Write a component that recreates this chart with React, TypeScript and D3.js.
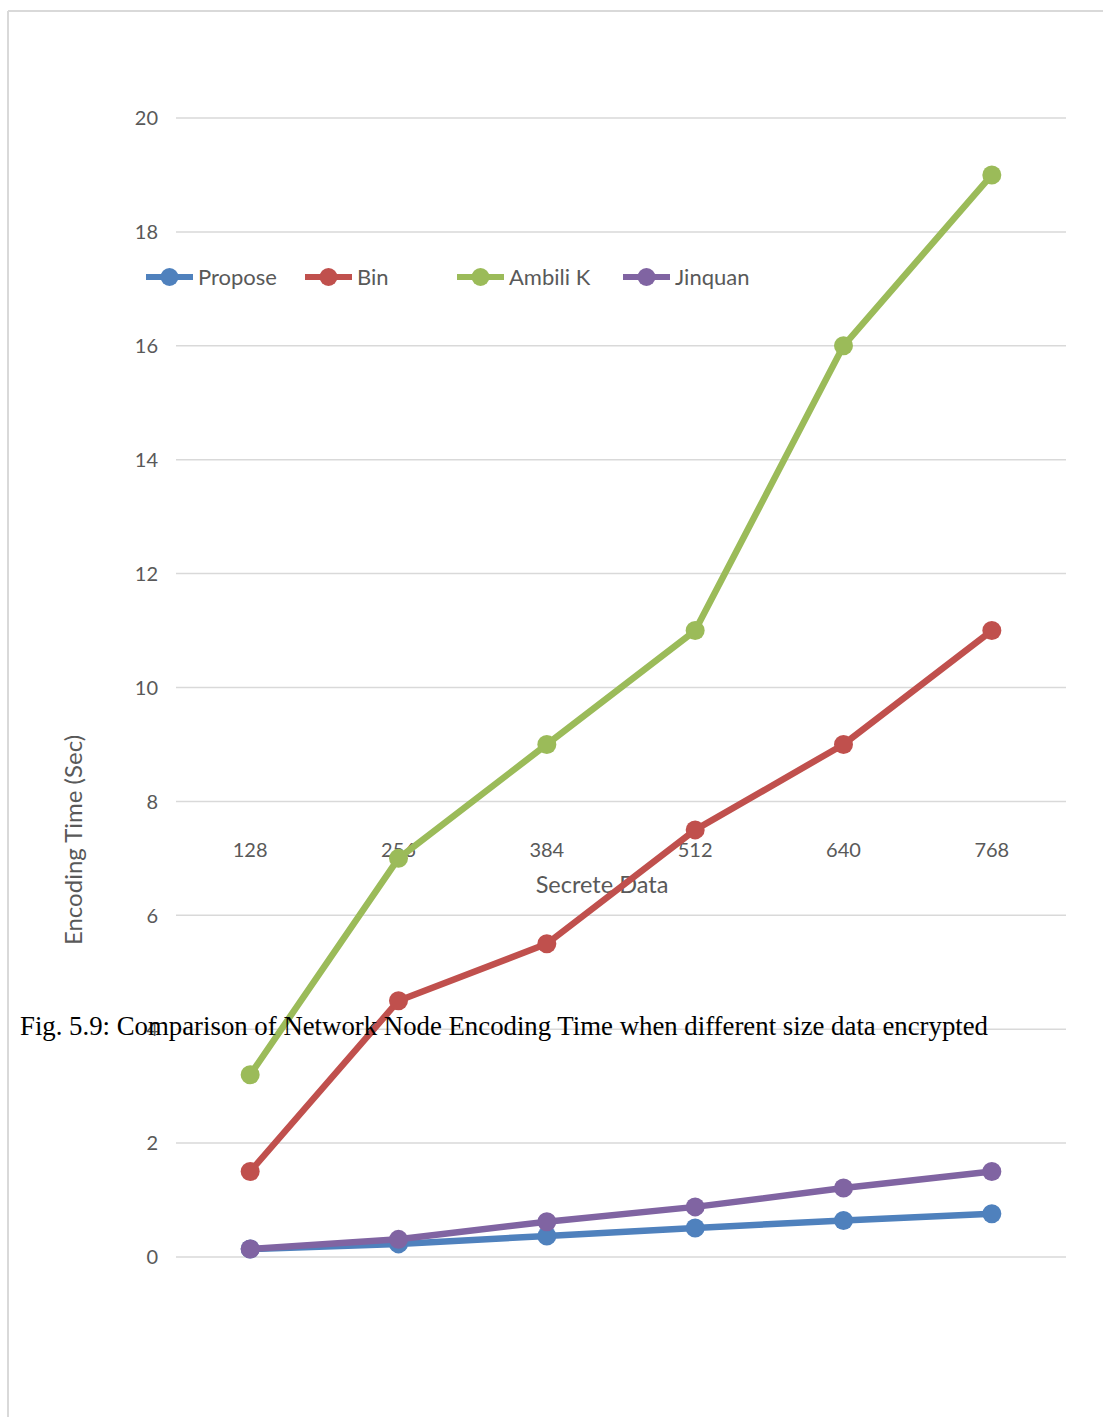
import React from "react";
import * as d3 from "d3";

// Data size categories (bits of secret data)
const categories = ["128", "256", "384", "512", "640", "768"];

// Encoding time in seconds per method
const propose = [0.14, 0.23, 0.37, 0.51, 0.64, 0.76];
const bin = [1.5, 4.5, 5.5, 7.5, 9, 11];
const ambili = [3.2, 7, 9, 11, 16, 19];
const jinquan = [0.14, 0.31, 0.62, 0.88, 1.21, 1.5];

const yTicks = [0, 2, 4, 6, 8, 10, 12, 14, 16, 18, 20];

const seriesNames = ["Propose", "Bin", "Ambili K", "Jinquan"];
const seriesValues = [propose, bin, ambili, jinquan];
const seriesColors = ["#4F81BD", "#C0504D", "#9BBB59", "#8064A2"];

const W = 1103;
const H = 1417;
const plot = { left: 176, right: 1066, top: 118, bottom: 1257 };
const uiFont = "Lato, 'Open Sans', sans-serif";

export default function App() {
  const x = d3
    .scaleBand<string>()
    .domain(categories)
    .range([plot.left, plot.right]);
  const y = d3.scaleLinear().domain([0, 20]).range([plot.bottom, plot.top]);
  const cx = (c: string) => (x(c) ?? 0) + x.bandwidth() / 2;

  const line = d3
    .line<number>()
    .x((_, i) => cx(categories[i]))
    .y((v) => y(v));

  const legendX = [146, 305, 457, 623];

  return (
    <svg
      width={W}
      height={H}
      style={{ position: "absolute", left: 0, top: 0, background: "#fff" }}
    >
      {/* frame */}
      <line x1={8} y1={11} x2={W} y2={11} stroke="#d9d9d9" strokeWidth={2} />
      <line x1={8} y1={11} x2={8} y2={H} stroke="#d9d9d9" strokeWidth={2} />

      {/* gridlines and y tick labels */}
      {yTicks.map((t) => (
        <g key={t}>
          <line
            x1={plot.left}
            x2={plot.right}
            y1={y(t)}
            y2={y(t)}
            stroke="#d9d9d9"
            strokeWidth={1.5}
          />
          <text
            x={158}
            y={y(t)}
            dy="0.36em"
            textAnchor="end"
            fontFamily={uiFont}
            fontSize={20}
            fill="#595959"
          >
            {t}
          </text>
        </g>
      ))}

      {/* category labels */}
      {categories.map((c) => (
        <text
          key={c}
          x={cx(c)}
          y={850}
          dy="0.36em"
          textAnchor="middle"
          fontFamily={uiFont}
          fontSize={20}
          fill="#595959"
        >
          {c}
        </text>
      ))}

      <text
        x={602}
        y={885}
        dy="0.36em"
        textAnchor="middle"
        fontFamily={uiFont}
        fontSize={23.5}
        fill="#595959"
      >
        Secrete Data
      </text>

      <text
        transform={`translate(73, 840) rotate(-90)`}
        dy="0.36em"
        textAnchor="middle"
        fontFamily={uiFont}
        fontSize={24}
        fill="#595959"
      >
        Encoding Time (Sec)
      </text>

      {/* series */}
      {seriesValues.map((vals, si) => (
        <g key={seriesNames[si]}>
          <path
            d={line(vals) ?? ""}
            fill="none"
            stroke={seriesColors[si]}
            strokeWidth={6.5}
            strokeLinejoin="round"
          />
          {vals.map((v, i) => (
            <circle
              key={i}
              cx={cx(categories[i])}
              cy={y(v)}
              r={9.5}
              fill={seriesColors[si]}
            />
          ))}
        </g>
      ))}

      {/* legend */}
      {seriesNames.map((name, i) => (
        <g key={name} transform={`translate(${legendX[i]}, 277)`}>
          <line x1={0} x2={47} y1={0} y2={0} stroke={seriesColors[i]} strokeWidth={6} />
          <circle cx={23.5} cy={0} r={9} fill={seriesColors[i]} />
          <text
            x={52}
            y={0}
            dy="0.36em"
            fontFamily={uiFont}
            fontSize={22}
            fill="#595959"
          >
            {name}
          </text>
        </g>
      ))}

      {/* figure caption */}
      <text
        x={20}
        y={1035}
        fontFamily="'Liberation Serif', 'Times New Roman', serif"
        fontSize={28}
        fill="#000"
        textLength={968}
        lengthAdjust="spacingAndGlyphs"
      >
        Fig. 5.9: Comparison of Network Node Encoding Time when different size data encrypted
      </text>
    </svg>
  );
}
